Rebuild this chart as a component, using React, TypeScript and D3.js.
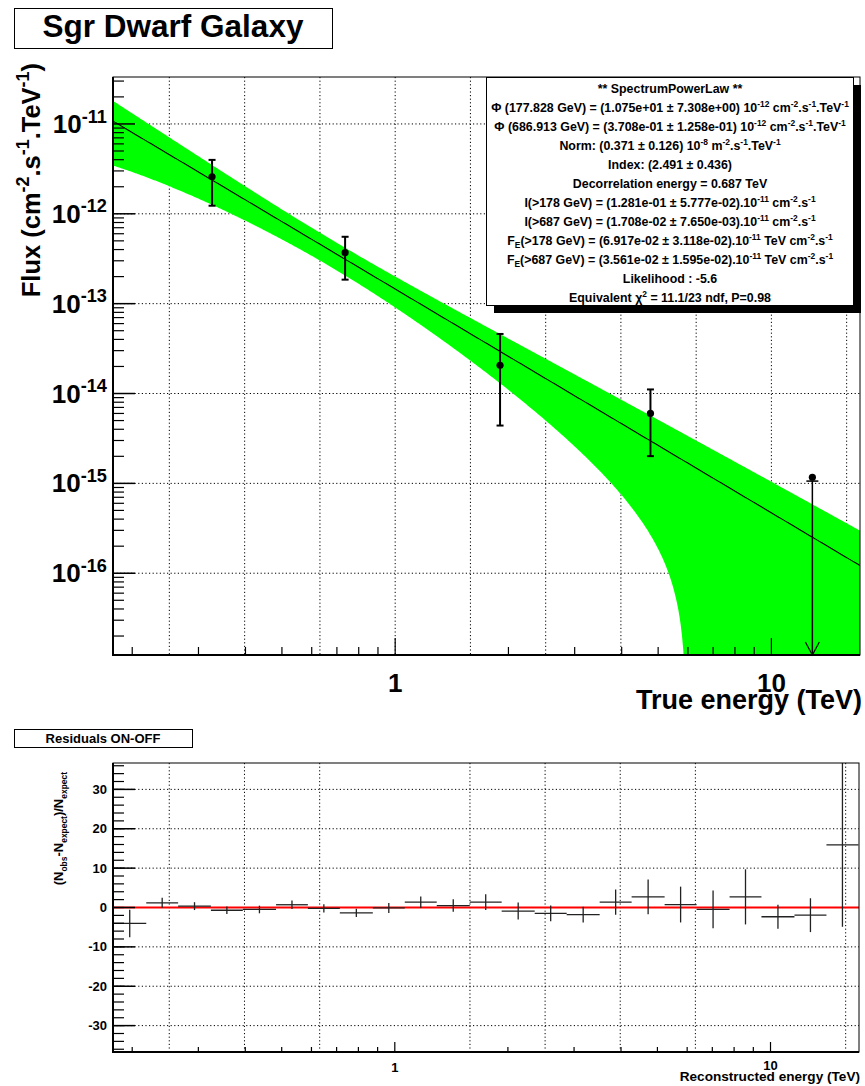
import React from 'react';
import * as d3 from 'd3';

const FONT = "'Liberation Sans', Arial, Helvetica, sans-serif";

// ---------- Upper panel data ----------
const pointEnergy = [0.326, 0.736, 1.9, 4.77, 12.85];
const pointFlux = [2.58e-12, 3.69e-13, 2.06e-14, 6.0e-15, 1.17e-15];
const pointFluxHigh = [3.98e-12, 5.55e-13, 4.6e-14, 1.11e-14, 1.06e-15];
const pointFluxLow = [1.23e-12, 1.85e-13, 4.4e-15, 2.01e-15, NaN];
const pointUpperLimit = [false, false, false, false, true];

// fit parameters (read from the stats box)
const fitFluxAtDecorr = 3.708e-13;
const fitFluxErrAtDecorr = 1.258e-13;
const fitIndex = 2.491;
const fitIndexErr = 0.436;
const fitDecorrEnergy = 0.687;

const energyDomain = [0.1778, 17.2];
const fluxDomain = [1.23e-17, 3.33e-11];
const fluxMajorExp = [-16, -15, -14, -13, -12, -11];
const energyMajor = [1, 10];
const energyMajorLabels = ['1', '10'];
const gridEnergiesTop = [0.251, 0.398, 0.631, 1, 1.585, 2.512, 3.981, 6.31, 10, 15.85];
const gridEnergiesBottom = [0.251, 0.398, 0.631, 1.585, 2.512, 3.981, 6.31, 15.85];

// ---------- Lower panel data ----------
const residualEdges = [0.178, 0.218, 0.265, 0.324, 0.394, 0.483, 0.587, 0.714, 0.874, 1.063, 1.293, 1.583,
  1.925, 2.357, 2.867, 3.51, 4.269, 5.226, 6.357, 7.78, 9.46, 11.58, 14.09, 17.14];
const residualValues = [-4.05, 1.2, 0.35, -0.7, -0.5, 0.7, -0.2, -1.35, -0.1, 1.35, 0.5, 1.35,
  -0.9, -1.5, -1.8, 1.35, 2.7, 0.75, -0.5, 2.7, -2.35, -1.95, 15.9];
const residualErrors = [3.5, 1.25, 1.0, 0.97, 0.97, 1.05, 1.05, 1.05, 1.27, 1.47, 1.6, 2.0,
  2.15, 2.0, 2.0, 3.2, 4.4, 4.55, 4.8, 7.0, 3.05, 4.3, 20.8];
const residualDomain = [-36.7, 36.7];
const residualMajor = [-30, -20, -10, 0, 10, 20, 30];
const residualMinor = d3.range(-36, 37, 2);

const statsLines = [
  '** SpectrumPowerLaw **',
  'Φ (177.828 GeV) = (1.075e+01 ± 7.308e+00) 10^{-12} cm^{-2}.s^{-1}.TeV^{-1}',
  'Φ (686.913 GeV) = (3.708e-01 ± 1.258e-01) 10^{-12} cm^{-2}.s^{-1}.TeV^{-1}',
  'Norm: (0.371 ± 0.126) 10^{-8} m^{-2}.s^{-1}.TeV^{-1}',
  'Index: (2.491 ± 0.436)',
  'Decorrelation energy = 0.687 TeV',
  'I(>178 GeV) = (1.281e-01 ± 5.777e-02).10^{-11} cm^{-2}.s^{-1}',
  'I(>687 GeV) = (1.708e-02 ± 7.650e-03).10^{-11} cm^{-2}.s^{-1}',
  'F_{E}(>178 GeV) = (6.917e-02 ± 3.118e-02).10^{-11} TeV cm^{-2}.s^{-1}',
  'F_{E}(>687 GeV) = (3.561e-02 ± 1.595e-02).10^{-11} TeV cm^{-2}.s^{-1}',
  'Likelihood : -5.6',
  'Equivalent χ^{2} = 11.1/23 ndf, P=0.98',
];

type Seg = { t: string; m: 'n' | 'sup' | 'sub' };
function parseRich(s: string): Seg[] {
  const out: Seg[] = [];
  let i = 0;
  let buf = '';
  while (i < s.length) {
    const c = s[i];
    if ((c === '^' || c === '_') && s[i + 1] === '{') {
      if (buf) { out.push({ t: buf, m: 'n' }); buf = ''; }
      const j = s.indexOf('}', i + 2);
      out.push({ t: s.slice(i + 2, j), m: c === '^' ? 'sup' : 'sub' });
      i = j + 1;
    } else { buf += c; i++; }
  }
  if (buf) out.push({ t: buf, m: 'n' });
  return out;
}

function Rich(props: { s: string; x: number; y: number; fs: number; anchor?: string; rotate?: boolean; sup?: number; sub?: number; scale?: number }) {
  const { s, x, y, fs, anchor = 'start', rotate = false, sup = 0.42, sub = 0.22, scale = 0.7 } = props;
  const segs = parseRich(s);
  let cur = 0;
  return (
    <text x={x} y={y} fontSize={fs} textAnchor={anchor as any} fontFamily={FONT} fontWeight="bold"
      transform={rotate ? `rotate(-90 ${x} ${y})` : undefined} style={{ whiteSpace: 'pre' }}>
      {segs.map((g, i) => {
        const target = g.m === 'sup' ? -sup * fs : g.m === 'sub' ? sub * fs : 0;
        const dy = target - cur;
        cur = target;
        return <tspan key={i} dy={dy} fontSize={g.m === 'n' ? fs : fs * scale}>{g.t}</tspan>;
      })}
    </text>
  );
}

export default function App() {
  // upper panel frame
  const L = 113, R = 860, T = 77, B = 655;
  const x = d3.scaleLog().domain(energyDomain).range([L, R]);
  const y = d3.scaleLog().domain(fluxDomain).range([B, T]);

  const fitF = (e: number) => fitFluxAtDecorr * Math.pow(e / fitDecorrEnergy, -fitIndex);
  const fitSig = (e: number) => fitF(e) * Math.sqrt(Math.pow(fitFluxErrAtDecorr / fitFluxAtDecorr, 2) +
    Math.pow(Math.log(e / fitDecorrEnergy) * fitIndexErr, 2));
  const samples = d3.range(0, 601).map(i => energyDomain[0] * Math.pow(energyDomain[1] / energyDomain[0], i / 600));
  const band = d3.area<number>()
    .x(e => x(e))
    .y0(e => { const lo = fitF(e) - fitSig(e); return lo > 0 ? Math.min(y(lo), B + 20) : B + 20; })
    .y1(e => y(fitF(e) + fitSig(e)))(samples) || '';
  const fitLine = d3.line<number>().x(e => x(e)).y(e => y(fitF(e)))(samples) || '';

  const fluxMinor: number[] = [];
  for (let d = -18; d <= -10; d++) for (let m = 2; m <= 9; m++) {
    const v = m * Math.pow(10, d);
    if (v > fluxDomain[0] && v < fluxDomain[1]) fluxMinor.push(v);
  }
  const energyMinor: number[] = [];
  for (let d = -1; d <= 1; d++) for (let m = 2; m <= 9; m++) {
    const v = m * Math.pow(10, d);
    if (v > energyDomain[0] && v < energyDomain[1]) energyMinor.push(v);
  }

  // lower panel frame
  const L2 = 113, R2 = 859, T2 = 763, B2 = 1052;
  const x2 = d3.scaleLog().domain(energyDomain).range([L2, R2]);
  const y2 = d3.scaleLinear().domain(residualDomain).range([B2, T2]);

  const dotted = { stroke: '#000', strokeWidth: 1, strokeDasharray: '1.2,2.4' };

  return (
    <svg width={865} height={1086} style={{ position: 'absolute', left: 0, top: 0, background: '#fff' }}
      fontFamily={FONT}>
      <defs>
        <clipPath id="upclip"><rect x={L} y={T} width={R - L} height={B - T} /></clipPath>
        <clipPath id="lowclip"><rect x={L2} y={T2} width={R2 - L2} height={B2 - T2} /></clipPath>
      </defs>
      <rect x={0} y={0} width={865} height={1086} fill="#fff" />

      {/* Title */}
      <rect x={14.5} y={8.5} width={318} height={40} fill="#fff" stroke="#000" strokeWidth={1} />
      <text x={173} y={37} textAnchor="middle" fontSize={31.5} fontWeight="bold">Sgr Dwarf Galaxy</text>

      {/* ---------- Upper panel ---------- */}
      <g>
        {gridEnergiesTop.map((e, i) => (
          <line key={'gx' + i} x1={x(e)} x2={x(e)} y1={T} y2={B} {...dotted} />
        ))}
        {fluxMajorExp.map(p => (
          <line key={'gy' + p} x1={L} x2={R} y1={y(Math.pow(10, p))} y2={y(Math.pow(10, p))} {...dotted} />
        ))}
        <g clipPath="url(#upclip)">
          <path d={band} fill="#00ff00" stroke="none" />
          <path d={fitLine} fill="none" stroke="#000" strokeWidth={1.1} />
        </g>
        {/* data points */}
        {pointEnergy.map((e, i) => {
          const cx = x(e), cy = y(pointFlux[i]);
          if (pointUpperLimit[i]) {
            const yc = y(pointFluxHigh[i]);
            return (
              <g key={'p' + i} stroke="#000" strokeWidth={1.5}>
                <line x1={cx - 6} x2={cx + 6} y1={yc} y2={yc} />
                <line x1={cx} x2={cx} y1={yc} y2={B} />
                <polyline points={`${cx - 7},${B - 13} ${cx},${B} ${cx + 7},${B - 13}`} fill="none" strokeWidth={1.2} />
                <circle cx={cx} cy={cy} r={3.6} fill="#000" stroke="none" />
              </g>
            );
          }
          const yh = y(pointFluxHigh[i]), yl = y(pointFluxLow[i]);
          return (
            <g key={'p' + i} stroke="#000" strokeWidth={2}>
              <line x1={cx} x2={cx} y1={yh} y2={yl} />
              <line x1={cx - 3.5} x2={cx + 3.5} y1={yh} y2={yh} />
              <line x1={cx - 3.5} x2={cx + 3.5} y1={yl} y2={yl} />
              <circle cx={cx} cy={cy} r={3.6} fill="#000" stroke="none" />
            </g>
          );
        })}
        {/* frame & ticks */}
        <rect x={L} y={T} width={R - L} height={B - T} fill="none" stroke="#000" strokeWidth={1} />
        <line x1={L} x2={L} y1={T} y2={B + 1} stroke="#000" strokeWidth={2} />
        <line x1={L} x2={R} y1={B} y2={B} stroke="#000" strokeWidth={2} />
        {fluxMinor.map((v, i) => (
          <line key={'ym' + i} x1={L} x2={L + 11} y1={y(v)} y2={y(v)} stroke="#000" strokeWidth={1.2} />
        ))}
        {fluxMajorExp.map(p => (
          <line key={'yM' + p} x1={L} x2={L + 22} y1={y(Math.pow(10, p))} y2={y(Math.pow(10, p))} stroke="#000" strokeWidth={1.5} />
        ))}
        {energyMinor.map((v, i) => (
          <line key={'xm' + i} x1={x(v)} x2={x(v)} y1={B} y2={B - 8} stroke="#000" strokeWidth={1.2} />
        ))}
        {energyMajor.map(v => (
          <line key={'xM' + v} x1={x(v)} x2={x(v)} y1={B} y2={B - 17} stroke="#000" strokeWidth={1.2} />
        ))}
        {fluxMajorExp.map(p => (
          <Rich key={'yl' + p} s={`10^{${p}}`} x={107} y={y(Math.pow(10, p)) + 9} fs={26} anchor="end" sup={0.4} />
        ))}
        {energyMajor.map((v, i) => (
          <text key={'xl' + v} x={x(v)} y={692} textAnchor="middle" fontSize={26} fontWeight="bold">{energyMajorLabels[i]}</text>
        ))}
        <text x={862} y={709} textAnchor="end" fontSize={27} fontWeight="bold">True energy (TeV)</text>
        <Rich s="Flux (cm^{-2}.s^{-1}.TeV^{-1})" x={40} y={63} fs={25.5} anchor="end" rotate={true} />
      </g>

      {/* Stats box */}
      <rect x={494} y={85} width={367} height={228} fill="#000" />
      <rect x={486.5} y={77.5} width={367} height={228} fill="#fff" stroke="#000" strokeWidth={1} />
      {statsLines.map((s, i) => (
        <Rich key={'st' + i} s={s} x={670} y={93 + i * 19} fs={12.4} anchor="middle" sup={0.4} sub={0.25} scale={0.68} />
      ))}

      {/* ---------- Lower panel ---------- */}
      <rect x={14.5} y={729.5} width={178} height={18} fill="#fff" stroke="#000" strokeWidth={1} />
      <text x={103} y={743} textAnchor="middle" fontSize={13} fontWeight="bold">Residuals ON-OFF</text>
      <g>
        {gridEnergiesBottom.map((e, i) => (
          <line key={'g2x' + i} x1={x2(e)} x2={x2(e)} y1={T2} y2={B2} {...dotted} />
        ))}
        {residualMajor.map(v => (
          <line key={'g2y' + v} x1={L2} x2={R2} y1={y2(v)} y2={y2(v)} {...dotted} />
        ))}
        <line x1={L2} x2={R2} y1={y2(0)} y2={y2(0)} stroke="#ff0000" strokeWidth={1.8} />
        <g clipPath="url(#lowclip)" stroke="#222" strokeWidth={1.3}>
          {residualValues.map((v, i) => {
            const lo = residualEdges[i], hi = residualEdges[i + 1];
            const c = Math.sqrt(lo * hi);
            return (
              <g key={'r' + i}>
                <line x1={x2(lo)} x2={x2(hi)} y1={y2(v)} y2={y2(v)} />
                <line x1={x2(c)} x2={x2(c)} y1={y2(v - residualErrors[i])} y2={y2(v + residualErrors[i])} />
              </g>
            );
          })}
        </g>
        <rect x={L2} y={T2} width={R2 - L2} height={B2 - T2} fill="none" stroke="#000" strokeWidth={1} />
        <line x1={L2} x2={L2} y1={T2} y2={B2 + 1} stroke="#000" strokeWidth={2} />
        <line x1={L2} x2={R2} y1={B2} y2={B2} stroke="#000" strokeWidth={2} />
        {residualMinor.map(v => (
          <line key={'r2m' + v} x1={L2} x2={L2 + 11} y1={y2(v)} y2={y2(v)} stroke="#000" strokeWidth={1.2} />
        ))}
        {residualMajor.map(v => (
          <line key={'r2M' + v} x1={L2} x2={L2 + 22} y1={y2(v)} y2={y2(v)} stroke="#000" strokeWidth={1.5} />
        ))}
        {energyMinor.map((v, i) => (
          <line key={'x2m' + i} x1={x2(v)} x2={x2(v)} y1={B2} y2={B2 - 5} stroke="#000" strokeWidth={1.2} />
        ))}
        {energyMajor.map(v => (
          <line key={'x2M' + v} x1={x2(v)} x2={x2(v)} y1={B2} y2={B2 - 10} stroke="#000" strokeWidth={1.2} />
        ))}
        {residualMajor.map(v => (
          <text key={'r2l' + v} x={107} y={y2(v) + 4.5} textAnchor="end" fontSize={13} fontWeight="bold">{v}</text>
        ))}
        {energyMajor.map((v, i) => (
          <text key={'x2l' + v} x={x2(v)} y={i === 0 ? 1072 : 1070} textAnchor="middle" fontSize={13} fontWeight="bold">{energyMajorLabels[i]}</text>
        ))}
        <text x={860} y={1081} textAnchor="end" fontSize={13.6} fontWeight="bold">Reconstructed energy (TeV)</text>
        <Rich s="(N_{obs}-N_{expect})/N_{expect}" x={63} y={772} fs={13} anchor="end" rotate={true} sub={0.3} scale={0.65} />
      </g>
    </svg>
  );
}
